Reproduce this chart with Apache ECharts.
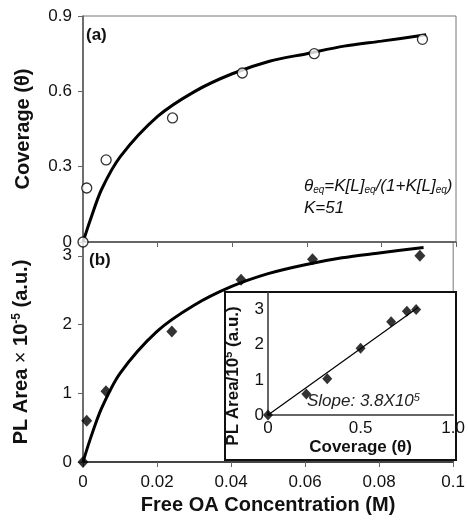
<!DOCTYPE html>
<html>
<head>
<meta charset="utf-8">
<script src="https://cdn.jsdelivr.net/npm/echarts@6/dist/echarts.min.js"></script>
<style>
  html, body { margin: 0; padding: 0; background: #fff; }
  #chart { width: 468px; height: 526px; }
</style>
</head>
<body>
<div id="chart"></div>
<script>
// free OA concentration (M) of the measured points
var conc = [0, 0.001, 0.0062, 0.024, 0.0427, 0.062, 0.091];
// (a) coverage theta, open circles
var coverage = [0, 0.215, 0.327, 0.494, 0.673, 0.75, 0.807];
// (b) PL area x 1e-5, diamonds
var plArea = [0, 0.6, 1.03, 1.9, 2.65, 2.95, 3.0];

// fitted curves
var fitConc = [0, 0.002, 0.005, 0.01, 0.02, 0.03, 0.04, 0.05, 0.06, 0.07, 0.08, 0.092];
var fitCoverage = [0, 0.09, 0.21, 0.34, 0.5, 0.6, 0.67, 0.72, 0.75, 0.78, 0.8, 0.825];
var fitPL = [0, 0.34, 0.78, 1.29, 1.9, 2.28, 2.55, 2.74, 2.87, 2.97, 3.04, 3.12];

// inset: PL area vs coverage
var insetCov = [0, 0.207, 0.32, 0.5, 0.665, 0.75, 0.8];
var insetPL = [0, 0.6, 1.03, 1.9, 2.65, 2.95, 3.0];
var insetFitX = [0, 0.81];
var insetFitY = [0, 3.06];

var FONT = 'Liberation Sans, Arial, sans-serif';

function pairs(xs, ys) {
  return xs.map(function (x, i) { return [x, ys[i]]; });
}

var chart = echarts.init(document.getElementById('chart'));

var axisLine = { lineStyle: { color: '#555', width: 1.5 } };
var tick = { length: 5, lineStyle: { color: '#666' } };
var lbl = { fontFamily: FONT, fontSize: 17, color: '#111' };

var option = {
  backgroundColor: '#fff',
  animation: false,
  grid: [
    { left: 83, top: 16, width: 373, height: 226, show: true, borderColor: '#777', borderWidth: 1 },
    { left: 83, top: 242, width: 373, height: 220, show: true, borderColor: '#777', borderWidth: 1 },
    { left: 268, top: 292, width: 187, height: 123, z: 10 }
  ],
  xAxis: [
    {
      gridIndex: 0, type: 'value', min: 0, max: 0.1, interval: 0.02,
      axisLine: axisLine, axisTick: tick, axisLabel: { show: false }, splitLine: { show: false }
    },
    {
      gridIndex: 1, type: 'value', min: 0, max: 0.1, interval: 0.02,
      axisLine: { lineStyle: { color: '#444', width: 2 } }, axisTick: tick,
      axisLabel: Object.assign({ margin: 12, formatter: function (v) { return v === 0 ? '0' : String(+v.toFixed(2)); } }, lbl),
      splitLine: { show: false },
      name: 'Free OA Concentration (M)', nameLocation: 'middle', nameGap: 33,
      nameTextStyle: { fontFamily: FONT, fontSize: 20, fontWeight: 'bold', color: '#111' }
    },
    {
      gridIndex: 2, type: 'value', min: 0, max: 1, interval: 0.5, z: 10,
      axisLine: { lineStyle: { color: '#333', width: 1.5 } }, axisTick: { show: false },
      axisLabel: Object.assign({ margin: 5, formatter: function (v) { return v === 0 ? '0' : v.toFixed(1); } }, lbl),
      splitLine: { show: false },
      name: 'Coverage (θ)', nameLocation: 'middle', nameGap: 24,
      nameTextStyle: { fontFamily: FONT, fontSize: 17, fontWeight: 'bold', color: '#111' }
    }
  ],
  yAxis: [
    {
      gridIndex: 0, type: 'value', min: 0, max: 0.9, interval: 0.3,
      axisLine: axisLine, axisTick: tick,
      axisLabel: Object.assign({ margin: 11, formatter: function (v) { return v === 0 ? '0' : v.toFixed(1); } }, lbl),
      splitLine: { show: false },
      name: 'Coverage (θ)', nameLocation: 'middle', nameGap: 50,
      nameTextStyle: { fontFamily: FONT, fontSize: 20, fontWeight: 'bold', color: '#111' }
    },
    {
      gridIndex: 1, type: 'value', min: 0, max: 3.2, interval: 1,
      axisLine: axisLine, axisTick: tick,
      axisLabel: Object.assign({ margin: 11, formatter: function (v) { return v % 1 === 0 ? String(v) : ''; } }, lbl),
      splitLine: { show: false },
      name: '{b|PL Area }{n|×}{b| 10}{s|-5}{b| (a.u.)}', nameLocation: 'middle', nameGap: 51,
      nameTextStyle: {
        rich: {
          b: { fontFamily: FONT, fontSize: 20, fontWeight: 'bold', color: '#111' },
          n: { fontFamily: FONT, fontSize: 20, color: '#111' },
          s: { fontFamily: FONT, fontSize: 12, fontWeight: 'bold', color: '#111', verticalAlign: 'top', padding: [0, 0, 9, 0] }
        }
      }
    },
    {
      gridIndex: 2, type: 'value', min: 0, max: 3.5, interval: 1, z: 10,
      axisLine: { lineStyle: { color: '#333', width: 1.5 } }, axisTick: { show: false },
      axisLabel: Object.assign({ margin: 4, formatter: function (v) { return v % 1 === 0 ? String(v) : ''; } }, lbl),
      splitLine: { show: false }
    }
  ],
  graphic: [
    {
      type: 'rect', z: 1,
      shape: { x: 225, y: 292, width: 231, height: 168 },
      style: { fill: '#fff', stroke: '#111', lineWidth: 2 }
    },
    {
      type: 'text', z: 20, x: 233, y: 376, rotation: Math.PI / 2,
      style: {
        text: '{b|PL Area/10}{s|5}{b| (a.u.)}', align: 'center', verticalAlign: 'middle',
        rich: {
          b: { fontFamily: FONT, fontSize: 17, fontWeight: 'bold', fill: '#111' },
          s: { fontFamily: FONT, fontSize: 11, fontWeight: 'bold', fill: '#111', padding: [0, 0, 8, 0] }
        }
      }
    },
    {
      type: 'text', z: 20, left: 307, top: 392,
      style: {
        text: '{i|Slope: 3.8X10}{s|5}',
        rich: {
          i: { fontFamily: FONT, fontSize: 17, fontStyle: 'italic', fill: '#222' },
          s: { fontFamily: FONT, fontSize: 11, fontStyle: 'italic', fill: '#222', padding: [0, 0, 8, 0] }
        }
      }
    },
    {
      type: 'text', left: 86, top: 27,
      style: { text: '(a)', fontFamily: FONT, fontSize: 17, fontWeight: 'bold', fill: '#111' }
    },
    {
      type: 'text', left: 89, top: 252,
      style: { text: '(b)', fontFamily: FONT, fontSize: 17, fontWeight: 'bold', fill: '#111' }
    },
    {
      type: 'text', left: 304, top: 177,
      style: {
        text: '{i|θ}{u|eq}{i|=K[L]}{u|eq}{i|/(1+K[L]}{u|eq}{i|)}\n{i|K=51}',
        rich: {
          i: { fontFamily: FONT, fontSize: 17, fontStyle: 'italic', fill: '#111', lineHeight: 22 },
          u: { fontFamily: FONT, fontSize: 10, fontStyle: 'italic', fill: '#111', padding: [8, 0, 0, 0], lineHeight: 22 }
        }
      }
    }
  ],
  series: [
    {
      type: 'line', xAxisIndex: 0, yAxisIndex: 0, data: pairs(fitConc, fitCoverage),
      smooth: 0.3, showSymbol: false, lineStyle: { color: '#000', width: 3 }, z: 3
    },
    {
      type: 'scatter', xAxisIndex: 0, yAxisIndex: 0, data: pairs(conc, coverage),
      symbol: 'circle', symbolSize: 10, clip: false,
      itemStyle: { color: '#fff', borderColor: '#000', borderWidth: 1.3 }, z: 4
    },
    {
      type: 'line', xAxisIndex: 1, yAxisIndex: 1, data: pairs(fitConc, fitPL),
      smooth: 0.3, showSymbol: false, lineStyle: { color: '#000', width: 3 }, z: 3
    },
    {
      type: 'scatter', xAxisIndex: 1, yAxisIndex: 1, data: pairs(conc, plArea),
      symbol: 'diamond', symbolSize: [11, 12], clip: false,
      itemStyle: { color: '#000' }, z: 4
    },
    {
      type: 'line', xAxisIndex: 2, yAxisIndex: 2, data: pairs(insetFitX, insetFitY),
      showSymbol: false, lineStyle: { color: '#000', width: 1.2 }, z: 11
    },
    {
      type: 'scatter', xAxisIndex: 2, yAxisIndex: 2, data: pairs(insetCov, insetPL),
      symbol: 'diamond', symbolSize: [10, 11], clip: false,
      itemStyle: { color: '#000' }, z: 12
    }
  ]
};

chart.setOption(option);
</script>
</body>
</html>
